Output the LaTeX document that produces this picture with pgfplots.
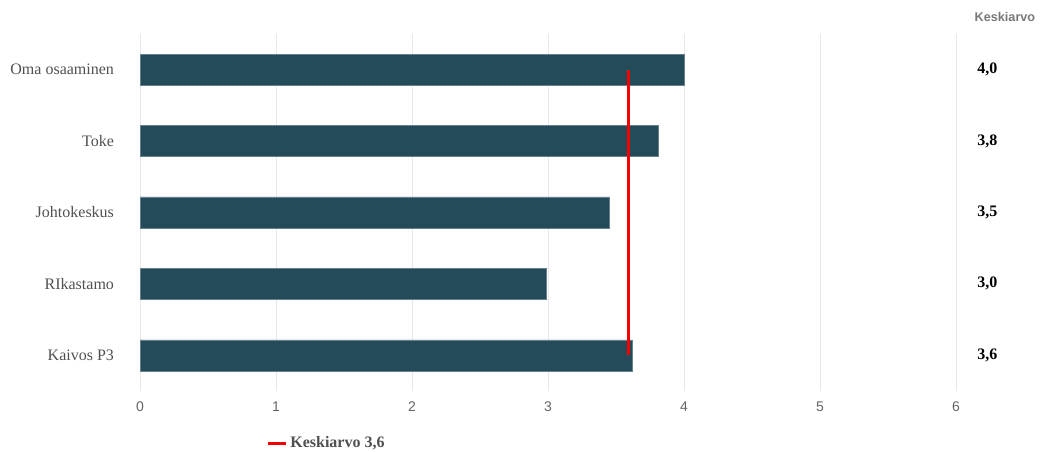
\documentclass[border=0pt]{standalone}
\usepackage{pgfplots}
\pgfplotsset{compat=1.18}
\usepackage{fontspec}
\setmainfont{Liberation Serif}
\newfontfamily\sansf{Liberation Sans}
\definecolor{barc}{RGB}{35,75,90}
\definecolor{gridc}{RGB}{232,232,236}
\definecolor{labc}{RGB}{80,80,80}
\definecolor{tickc}{RGB}{100,100,100}
\definecolor{hdrc}{RGB}{120,120,120}
\definecolor{redc}{RGB}{245,0,0}
\begin{document}
\begin{tikzpicture}
\begin{axis}[
  at={(105pt,45.75pt)}, anchor=south west,
  scale only axis, width=612pt, height=267.75pt,
  xmin=0, xmax=6, ymin=-0.5, ymax=4.5,
  xtick={0,1,2,3,4,5,6},
  ytick={0,1,2,3,4},
  yticklabels={Kaivos P3,RIkastamo,Johtokeskus,Toke,Oma osaaminen},
  xmajorgrids, major grid style={gridc, line width=0.75pt},
  axis line style={draw=none},
  major tick length=0pt,
  /pgf/number format/assume math mode=true,
  xticklabel style={font=\sansf\fontsize{10.5}{12}\selectfont, text=tickc, yshift=-4.5pt},
  yticklabel style={font=\fontsize{12}{14}\selectfont, text=labc, xshift=-16pt},
  clip=false,
  legend style={at={(axis description cs:0.155,-0.146)}, anchor=west, draw=none, fill=none,
    font=\bfseries\fontsize{12}{14}\selectfont, text=labc, inner sep=0pt},
  legend cell align=left,
]
\addplot[xbar, bar width=23.25pt, fill=barc, draw=barc!70!white, line width=0.4pt, forget plot]
  coordinates {(3.62,0) (2.99,1) (3.45,2) (3.81,3) (4.0,4)};
\addplot[redc, line width=2.2pt, mark=none,
  legend image code/.code={\draw[redc, line width=2.2pt] (0pt,0pt) -- (13.5pt,0pt);}]
  coordinates {(3.59,0) (3.59,4)};
\addlegendentry{Keskiarvo 3,6}
\addplot[draw=none, mark=none, forget plot, nodes near coords, point meta=explicit symbolic,
  nodes near coords style={anchor=center, font=\bfseries\fontsize{12}{14}\selectfont, text=black}]
  coordinates {(6.23,0)[3,6] (6.23,1)[3,0] (6.23,2)[3,5] (6.23,3)[3,8] (6.23,4)[4,0]};
\node[font=\sansf\bfseries\fontsize{9.5}{11}\selectfont, text=hdrc, anchor=center]
  at (axis description cs:1.06,1.048) {Keskiarvo};
\end{axis}
\pgfresetboundingbox
\path[use as bounding box] (0pt,0pt) rectangle (784.5pt,339pt);
\end{tikzpicture}
\end{document}
